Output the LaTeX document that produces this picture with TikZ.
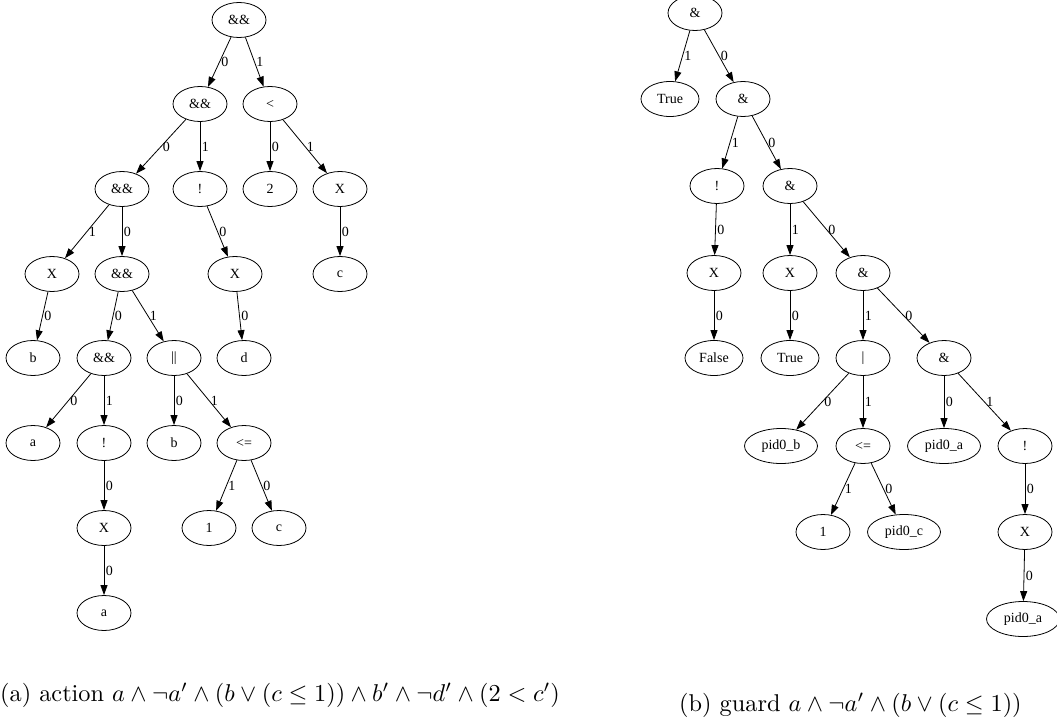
\documentclass[tikz,border=0pt]{standalone}
\usepackage{fontspec}
\usepackage{graphicx}
\usetikzlibrary{shapes.geometric,arrows.meta}
\newfontfamily\gvfont{Liberation Serif}
\tikzset{
  x=1pt, y=-1pt,
  tnode/.style={ellipse, draw, line width=0.8pt, inner sep=0pt,
    minimum width=54pt, minimum height=35pt,
    font=\gvfont\fontsize{14}{16}\selectfont},
  wnode/.style={tnode, minimum width=58pt},
  pnode/.style={tnode, minimum width=73pt},
  edge/.style={draw, line width=0.8pt, -{Triangle[length=10pt,width=7pt]}},
  elab/.style={anchor=west, inner sep=1.5pt, font=\gvfont\fontsize{14}{16}\selectfont},
  caption/.style={anchor=base west, inner sep=0pt}
}
\begin{document}
\begin{tikzpicture}
\useasboundingbox (0,0) rectangle (1057,725);

% ---- expression tree of the action ----
\node[tnode] (L0)  at (239,20)  {\&\&};
\node[tnode] (L1a) at (200,104) {\&\&};
\node[tnode] (L1b) at (270,104) {<};
\node[tnode] (L2a) at (122,189) {\&\&};
\node[tnode] (L2b) at (200,189) {!};
\node[tnode] (L2c) at (270,189) {2};
\node[tnode] (L2d) at (340,189) {X};
\node[tnode] (L3a) at (52,274)  {X};
\node[tnode] (L3b) at (122,274) {\&\&};
\node[tnode] (L3c) at (235,274) {X};
\node[tnode] (L3d) at (340,274) {c};
\node[tnode] (L4a) at (33,358)  {b};
\node[tnode] (L4b) at (104,358) {\&\&};
\node[tnode] (L4c) at (174,358) {||};
\node[tnode] (L4d) at (244,358) {d};
\node[tnode] (L5a) at (33,443)  {a};
\node[tnode] (L5b) at (104,443) {!};
\node[tnode] (L5c) at (174,443) {b};
\node[tnode] (L5d) at (244,443) {<=};
\node[tnode] (L6a) at (104,528) {X};
\node[tnode] (L6b) at (209,528) {1};
\node[tnode] (L6c) at (279,528) {c};
\node[tnode] (L7a) at (104,613) {a};

\path[edge] (L0)  -- node[elab] {0} (L1a);
\path[edge] (L0)  -- node[elab] {1} (L1b);
\path[edge] (L1a) -- node[elab] {0} (L2a);
\path[edge] (L1a) -- node[elab] {1} (L2b);
\path[edge] (L1b) -- node[elab] {0} (L2c);
\path[edge] (L1b) -- node[elab] {1} (L2d);
\path[edge] (L2a) -- node[elab] {1} (L3a);
\path[edge] (L2a) -- node[elab] {0} (L3b);
\path[edge] (L2b) -- node[elab] {0} (L3c);
\path[edge] (L2d) -- node[elab] {0} (L3d);
\path[edge] (L3a) -- node[elab] {0} (L4a);
\path[edge] (L3b) -- node[elab] {0} (L4b);
\path[edge] (L3b) -- node[elab] {1} (L4c);
\path[edge] (L3c) -- node[elab] {0} (L4d);
\path[edge] (L4b) -- node[elab] {0} (L5a);
\path[edge] (L4b) -- node[elab] {1} (L5b);
\path[edge] (L4c) -- node[elab] {0} (L5c);
\path[edge] (L4c) -- node[elab] {1} (L5d);
\path[edge] (L5b) -- node[elab] {0} (L6a);
\path[edge] (L5d) -- node[elab] {1} (L6b);
\path[edge] (L5d) -- node[elab] {0} (L6c);
\path[edge] (L6a) -- node[elab] {0} (L7a);

% ---- expression tree of the guard ----
\node[tnode] (R0)  at (695,13)  {\&};
\node[wnode] (R1a) at (670,99)  {True};
\node[tnode] (R1b) at (743,99)  {\&};
\node[tnode] (R2a) at (717,186) {!};
\node[tnode] (R2b) at (790,186) {\&};
\node[tnode] (R3a) at (714,273) {X};
\node[tnode] (R3b) at (790,273) {X};
\node[tnode] (R3c) at (863,273) {\&};
\node[wnode] (R4a) at (714,358) {False};
\node[wnode] (R4b) at (790,358) {True};
\node[tnode] (R4c) at (863,358) {|};
\node[tnode] (R4d) at (944,358) {\&};
\node[pnode] (R5a) at (781,446) {pid0\_b};
\node[tnode] (R5b) at (863,446) {<=};
\node[pnode] (R5c) at (944,446) {pid0\_a};
\node[tnode] (R5d) at (1025,446) {!};
\node[tnode] (R6a) at (823,532) {1};
\node[pnode] (R6b) at (904,532) {pid0\_c};
\node[tnode] (R6c) at (1025,532) {X};
\node[pnode] (R7)  at (1023,619) {pid0\_a};

\path[edge] (R0)  -- node[elab] {1} (R1a);
\path[edge] (R0)  -- node[elab] {0} (R1b);
\path[edge] (R1b) -- node[elab] {1} (R2a);
\path[edge] (R1b) -- node[elab] {0} (R2b);
\path[edge] (R2a) -- node[elab] {0} (R3a);
\path[edge] (R2b) -- node[elab] {1} (R3b);
\path[edge] (R2b) -- node[elab] {0} (R3c);
\path[edge] (R3a) -- node[elab] {0} (R4a);
\path[edge] (R3b) -- node[elab] {0} (R4b);
\path[edge] (R3c) -- node[elab] {1} (R4c);
\path[edge] (R3c) -- node[elab] {0} (R4d);
\path[edge] (R4c) -- node[elab] {0} (R5a);
\path[edge] (R4c) -- node[elab] {1} (R5b);
\path[edge] (R4d) -- node[elab] {0} (R5c);
\path[edge] (R4d) -- node[elab] {1} (R5d);
\path[edge] (R5b) -- node[elab] {1} (R6a);
\path[edge] (R5b) -- node[elab] {0} (R6b);
\path[edge] (R5d) -- node[elab] {0} (R6c);
\path[edge] (R6c) -- node[elab] {0} (R7);

% ---- captions ----
\node[caption] (capa) at (0,701)
  {\scalebox{2.43}{(a) action $a \wedge \neg a' \wedge (b \vee (c \leq 1)) \wedge b' \wedge \neg d' \wedge (2 < c')$}};
\node[caption] (capb) at (679,711)
  {\scalebox{2.43}{(b) guard $a \wedge \neg a' \wedge (b \vee (c \leq 1))$}};
\end{tikzpicture}
\end{document}
